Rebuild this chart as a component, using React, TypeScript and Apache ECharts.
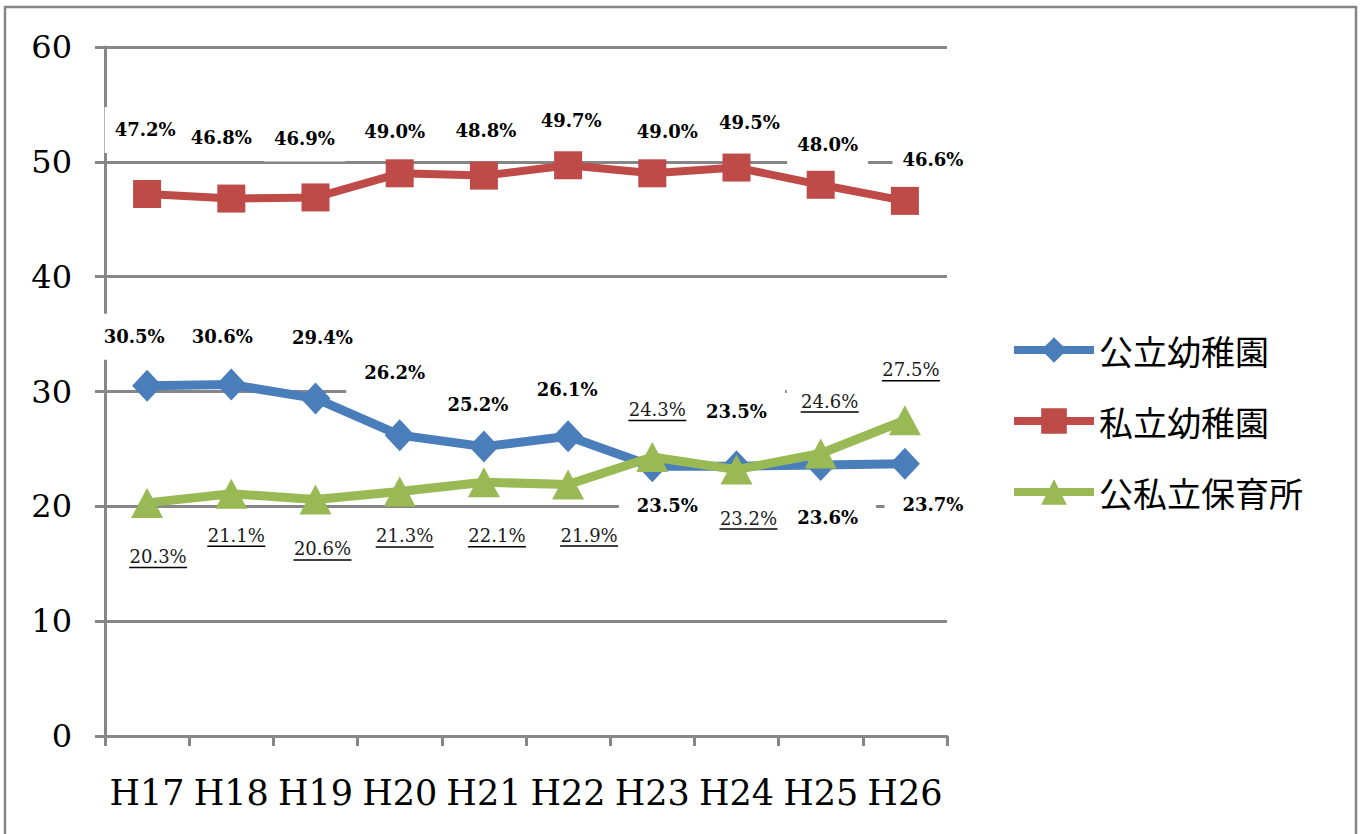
import React, { useEffect, useRef } from "react";
import * as echarts from "echarts";

const categories = ["H17", "H18", "H19", "H20", "H21", "H22", "H23", "H24", "H25", "H26"];
const seriesNames = ["公立幼稚園", "私立幼稚園", "公私立保育所"];
const publicKinder = [30.5, 30.6, 29.4, 26.2, 25.2, 26.1, 23.5, 23.5, 23.6, 23.7];
const privateKinder = [47.2, 46.8, 46.9, 49.0, 48.8, 49.7, 49.0, 49.5, 48.0, 46.6];
const nursery = [20.3, 21.1, 20.6, 21.3, 22.1, 21.9, 24.3, 23.2, 24.6, 27.5];

// label offsets (style only)
const publicOffsets = [[-13, -49], [-9, -48], [7, -61], [-5, -63], [-6, -42], [-1, -47], [15, 39], [0, -55], [7, 53], [28, 41]];
const privateOffsets = [[-2, -64], [-10, -61], [-11, -59], [-5, -42], [2, -45], [3, -45], [15, -42], [13, -45], [7, -40], [28, -41]];
const nurseryOffsets = [[11, 55], [5, 43], [7, 51], [5, 46], [13, 55], [21, 52], [5, -46], [12, 50], [9, -51], [6, -49]];

const GRAY = "#868686";
const BLUE = "#4A7EBB";
const RED = "#BE4B48";
const GREEN = "#98B954";

const boldLabel = (pad: number[]) => ({
  show: true,
  position: "inside",
  color: "#000",
  fontFamily: "DejaVu Serif",
  fontWeight: "bold",
  fontSize: 18,
  backgroundColor: "#fff",
  padding: pad,
  formatter: (p: any) => Number(p.value).toFixed(1) + "%",
});

const underLabel = {
  show: true,
  position: "inside",
  backgroundColor: "#fff",
  padding: [12, 14],
  formatter: (p: any) => `{t|${Number(p.value).toFixed(1)}%}\n{u|}`,
  rich: {
    t: { fontFamily: "DejaVu Serif", fontSize: 18, color: "#1a1a1a", lineHeight: 19, align: "center" },
    u: { width: 58, height: 1.5, backgroundColor: "#000", lineHeight: 3, align: "center" },
  },
};

export default function App() {
  const ref = useRef<HTMLDivElement>(null);
  useEffect(() => {
    document.body.style.margin = "0";
    if (!ref.current) return;
    const chart = echarts.init(ref.current, null, { renderer: "svg" });
    const mk = (vals: number[], offs: number[][], base: any) =>
      vals.map((v, i) => ({ value: v, label: { ...base, offset: offs[i] } }));
    chart.setOption({
      animation: false,
      backgroundColor: "#fff",
      graphic: [
        {
          type: "rect",
          shape: { x: 5, y: 7, width: 1351, height: 900 },
          style: { fill: "none", stroke: GRAY, lineWidth: 2.5 },
          silent: true,
        },
      ],
      grid: { left: 105, top: 47, right: 419, bottom: 98, containLabel: false },
      legend: {
        orient: "vertical",
        left: 1005,
        top: 327,
        itemWidth: 80,
        itemHeight: 32,
        itemGap: 35,
        data: seriesNames,
        lineStyle: { width: 8 },
        textStyle: { fontFamily: "Noto Sans CJK JP", fontSize: 34, color: "#000", lineHeight: 36 },
      },
      xAxis: {
        type: "category",
        data: categories,
        boundaryGap: true,
        axisLine: { show: true, lineStyle: { color: GRAY, width: 3 } },
        axisTick: { show: true, length: 10, lineStyle: { color: GRAY, width: 3 } },
        axisLabel: { fontFamily: "DejaVu Serif", fontSize: 35, color: "#000", margin: 39, interval: 0 },
        splitLine: { show: false },
      },
      yAxis: {
        type: "value",
        min: 0,
        max: 60,
        interval: 10,
        axisLine: { show: true, lineStyle: { color: GRAY, width: 3 } },
        axisTick: { show: true, length: 10, lineStyle: { color: GRAY, width: 3 } },
        axisLabel: { fontFamily: "DejaVu Serif", fontSize: 32, color: "#000", margin: 33 },
        splitLine: { show: true, lineStyle: { color: GRAY, width: 3 } },
      },
      series: [
        {
          name: seriesNames[0],
          type: "line",
          data: mk(publicKinder, publicOffsets, boldLabel([14, 18])),
          symbol: "diamond",
          symbolSize: [30, 32],
          itemStyle: { color: BLUE },
          lineStyle: { color: BLUE, width: 9 },
          z: 3,
        },
        {
          name: seriesNames[1],
          type: "line",
          data: mk(privateKinder, privateOffsets, boldLabel([14, 10])),
          symbol: "rect",
          symbolSize: 28,
          itemStyle: { color: RED },
          lineStyle: { color: RED, width: 8 },
          z: 3,
        },
        {
          name: seriesNames[2],
          type: "line",
          data: mk(nursery, nurseryOffsets, underLabel),
          symbol: "triangle",
          symbolSize: [32, 30],
          itemStyle: { color: GREEN },
          lineStyle: { color: GREEN, width: 9 },
          z: 4,
        },
      ],
    });
    return () => chart.dispose();
  }, []);
  return <div ref={ref} style={{ width: 1366, height: 834 }} />;
}
